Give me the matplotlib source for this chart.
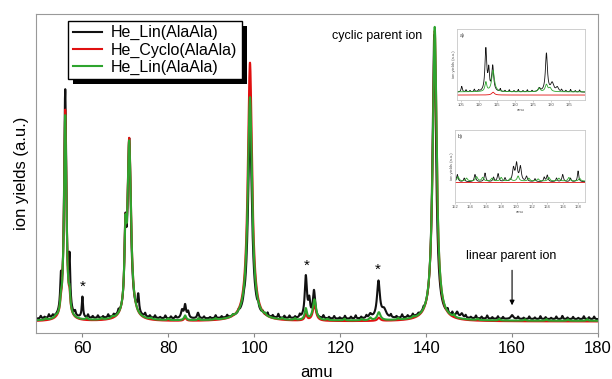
import numpy as np
import matplotlib
matplotlib.use('Agg')
import matplotlib.pyplot as plt
from matplotlib.patches import Rectangle
from matplotlib.transforms import IdentityTransform

plt.rcParams['font.family'] = ['Liberation Sans', 'DejaVu Sans']

# ---------------- main spectrum: peak tables (amu, height, half width) ----------
black_base = 0.043
black_pos = [55.0, 56.0, 57.0, 60.0, 70.0, 70.9, 73.0, 83.2, 83.9, 84.6, 86.9,
             99.0, 112.0, 112.8, 113.9, 127.0, 128.9, 130.2, 141.9, 147.2, 148.3, 160.0]
black_amp = [0.09, 0.71, 0.15, 0.065, 0.22, 0.55, 0.055, 0.025, 0.04, 0.02, 0.018,
             0.60, 0.13, 0.05, 0.085, 0.012, 0.115, 0.025, 0.89, 0.015, 0.012, 0.012]
black_wid = [0.2, 0.3, 0.2, 0.17, 0.25, 0.45, 0.22, 0.3, 0.25, 0.25, 0.25,
             0.55, 0.3, 0.25, 0.32, 0.35, 0.4, 0.6, 0.5, 0.3, 0.3, 0.35]

red_base = 0.036
red_pos = [55.0, 56.0, 57.0, 70.0, 70.9, 83.9, 99.0, 112.0, 114.0, 129.0, 142.0]
red_amp = [0.02, 0.66, 0.04, 0.2, 0.56, 0.01, 0.81, 0.02, 0.05, 0.01, 0.91]
red_wid = [0.2, 0.33, 0.2, 0.25, 0.5, 0.3, 0.6, 0.3, 0.45, 0.4, 0.55]

green_base = 0.038
green_pos = [55.0, 56.0, 57.0, 70.0, 70.9, 83.9, 99.0, 112.0, 114.0, 127.0, 129.0, 142.0]
green_amp = [0.03, 0.64, 0.05, 0.2, 0.55, 0.015, 0.70, 0.035, 0.065, 0.008, 0.025, 0.92]
green_wid = [0.2, 0.33, 0.2, 0.25, 0.5, 0.3, 0.6, 0.3, 0.45, 0.3, 0.45, 0.55]

# baseline jitter of the black trace (amu, height)
black_noise_pos = [50.3, 51.2, 52.2, 53.1, 58.3, 61.3, 62.4, 63.6, 64.8, 66.0, 67.3, 68.4,
                   74.6, 75.7, 76.9, 78.1, 79.3, 80.6, 81.7, 88.3, 89.7, 91.0, 92.4,
                   93.7, 95.1, 96.4, 97.6, 100.9, 102.0, 103.1, 104.3, 105.6, 107.0,
                   108.2, 109.5, 110.6, 116.1, 117.4, 118.6, 119.9, 121.1, 122.5,
                   123.6, 124.9, 126.1, 131.8, 133.1, 134.4, 135.7, 136.9, 138.2,
                   139.4, 145.0, 146.1, 149.2, 150.4, 151.6, 152.9, 154.2, 155.4,
                   156.7, 157.9, 161.4, 162.7, 164.0, 165.3, 166.6, 167.8, 169.1,
                   170.3, 171.7, 172.9, 174.2, 175.4, 176.7, 177.9, 179.1]
black_noise_amp = [0.008, 0.004, 0.010, 0.006, 0.012, 0.010, 0.006, 0.008, 0.005, 0.009,
                   0.006, 0.010, 0.010, 0.006, 0.008, 0.004, 0.009, 0.006, 0.007, 0.006,
                   0.004, 0.009, 0.005, 0.007, 0.004, 0.008, 0.010, 0.012, 0.007, 0.010,
                   0.006, 0.012, 0.007, 0.008, 0.005, 0.009, 0.009, 0.005, 0.008, 0.004,
                   0.009, 0.006, 0.010, 0.005, 0.008, 0.009, 0.005, 0.010, 0.006, 0.008,
                   0.004, 0.007, 0.012, 0.010, 0.008, 0.004, 0.009, 0.006, 0.010, 0.005,
                   0.008, 0.006, 0.007, 0.004, 0.008, 0.005, 0.009, 0.006, 0.004, 0.008,
                   0.010, 0.005, 0.007, 0.004, 0.009, 0.006, 0.008]
green_noise_pos = [51.5, 53.8, 61.0, 64.5, 67.0, 76.0, 80.0, 87.0, 91.0, 95.0, 102.5,
                   106.5, 109.5, 117.0, 121.0, 125.0, 133.5, 137.0, 146.5, 152.0,
                   157.0, 163.0, 168.0, 173.0, 177.5]
green_noise_amp = [0.004, 0.005, 0.006, 0.004, 0.005, 0.004, 0.005, 0.006, 0.004, 0.005,
                   0.006, 0.004, 0.005, 0.004, 0.005, 0.004, 0.005, 0.004, 0.008, 0.004,
                   0.005, 0.004, 0.005, 0.004, 0.005]

# ---------------- inset a) 104-139.5 amu ----------------
ia_black_base = 0.11
ia_black_pos = [105.3, 112.0, 112.8, 113.9, 126.8, 128.8, 130.4, 131.8]
ia_black_amp = [0.08, 0.60, 0.28, 0.36, 0.05, 0.54, 0.12, 0.06]
ia_black_wid = [0.2, 0.3, 0.22, 0.32, 0.35, 0.33, 0.5, 0.4]
ia_green_base = 0.115
ia_green_pos = [112.0, 114.0, 126.8, 128.8, 129.8]
ia_green_amp = [0.13, 0.30, 0.05, 0.10, 0.05]
ia_green_wid = [0.3, 0.45, 0.35, 0.4, 0.4]
ia_red_base = 0.07
ia_red_pos = [114.0]
ia_red_amp = [0.04]
ia_red_wid = [0.45]
ia_black_noise_pos = [106.5, 107.6, 108.8, 110.0, 116.0, 117.3, 118.5, 119.8, 121.0,
                      122.3, 123.5, 124.8, 133.0, 134.2, 135.5, 136.8, 138.0]
ia_black_noise_amp = [0.03, 0.02, 0.035, 0.02, 0.04, 0.02, 0.03, 0.02, 0.035, 0.02,
                      0.03, 0.02, 0.03, 0.02, 0.035, 0.02, 0.03]

# ---------------- inset b) 152-168.9 amu ----------------
ib_black_base = 0.28
ib_black_pos = [152.3, 153.2, 154.6, 155.9, 157.0, 157.6, 158.5, 159.6, 160.0, 160.5,
                161.3, 162.4, 163.6, 164.0, 165.2, 166.0, 167.0, 168.0]
ib_black_amp = [0.10, 0.05, 0.10, 0.12, 0.06, 0.11, 0.05, 0.18, 0.24, 0.20, 0.07,
                0.04, 0.06, 0.09, 0.05, 0.10, 0.05, 0.15]
ib_black_wid = [0.12, 0.1, 0.12, 0.12, 0.1, 0.12, 0.1, 0.15, 0.15, 0.15, 0.12,
                0.1, 0.1, 0.12, 0.1, 0.12, 0.1, 0.1]
ib_green_base = 0.29
ib_green_pos = [152.4, 153.5, 154.8, 155.6, 156.8, 158.0, 159.2, 160.2, 161.6,
                162.8, 164.2, 165.5, 166.8, 168.2]
ib_green_amp = [0.06, 0.04, 0.06, 0.05, 0.04, 0.05, 0.04, 0.07, 0.04, 0.03, 0.05,
                0.04, 0.05, 0.04]
ib_red_base = 0.27

series_labels = ['He_Lin(AlaAla)', 'He_Cyclo(AlaAla)', 'He_Lin(AlaAla)']
series_colors = ['#111111', '#e01010', '#2ea42e']
main_ticks = [60, 80, 100, 120, 140, 160, 180]
ia_ticks = [105, 110, 115, 120, 125, 130, 135]
ib_ticks = [152, 154, 156, 158, 160, 162, 164, 166, 168]


def spectrum(x, base, pos, amp, wid):
    y = np.full_like(x, base)
    for c, a, w in zip(pos, amp, wid):
        y += a * w ** 2 / ((x - c) ** 2 + w ** 2)
    return y


fig = plt.figure(figsize=(6.12, 3.79), dpi=100)
ax = fig.add_axes([36 / 612, 46 / 379, 562 / 612, 319.5 / 379])

x = np.linspace(49.2, 180, 4000)
y_black = spectrum(x, black_base, black_pos, black_amp, black_wid) + \
    spectrum(x, 0, black_noise_pos, black_noise_amp, [0.15] * len(black_noise_pos))
y_red = spectrum(x, red_base, red_pos, red_amp, red_wid)
y_green = spectrum(x, green_base, green_pos, green_amp, green_wid) + \
    spectrum(x, 0, green_noise_pos, green_noise_amp, [0.2] * len(green_noise_pos))

for y, c, lab in zip([y_black, y_red, y_green], series_colors, series_labels):
    ax.plot(x, y, color=c, lw=1.5, label=lab)

ax.set_xlim(49.2, 180)
ax.set_ylim(0, 1)
ax.set_yticks([])
ax.set_xticks(main_ticks)
ax.tick_params(axis='x', labelsize=12, length=3, color='#888888', pad=3)
for s in ax.spines.values():
    s.set_color('#999999')
ax.set_xlabel('amu', fontsize=12, labelpad=6)
ax.set_ylabel('ion yields (a.u.)', fontsize=12, labelpad=5)

# annotations
ax.text(128.6, 0.93, 'cyclic parent ion', fontsize=9, ha='center', va='center')
ax.text(159.7, 0.24, 'linear parent ion', fontsize=9, ha='center', va='center')
ax.annotate('', xy=(160, 0.078), xytext=(160, 0.205),
            arrowprops=dict(arrowstyle='-|>', color='black', lw=0.8,
                            mutation_scale=7))
for sx, sy in [(60, 0.145), (112.3, 0.21), (128.8, 0.198)]:
    ax.text(sx, sy, '*', fontsize=11, ha='center', va='center')

leg = ax.legend(loc='upper left', bbox_to_anchor=(0.057, 0.978), borderaxespad=0,
                fontsize=11.5, frameon=True, fancybox=False, framealpha=1,
                handlelength=1.8, labelspacing=0.12, borderpad=0.3,
                handletextpad=0.55)
leg.get_frame().set_edgecolor('black')
leg.get_frame().set_linewidth(1.0)
leg.set_zorder(6)

# ---------------- insets ----------------
def style_inset(iax, ticks, lab):
    iax.set_xticks(ticks)
    iax.set_yticks([])
    iax.tick_params(axis='x', labelsize=3, length=1.2, width=0.4, pad=1,
                    color='#aaaaaa', labelcolor='#555555')
    for s in iax.spines.values():
        s.set_color('#c8c8c8')
        s.set_linewidth(0.6)
    iax.set_xlabel('amu', fontsize=3, labelpad=0.5, color='#555555')
    iax.set_ylabel('ion yields (a.u.)', fontsize=3, labelpad=1, color='#555555')
    iax.text(0.02, 0.95, lab, transform=iax.transAxes, fontsize=4, va='top',
             color='#444444')


iax_a = fig.add_axes([457 / 612, 279 / 379, 128 / 612, 71 / 379])
xa = np.linspace(104, 139.5, 1500)
ya_black = spectrum(xa, ia_black_base, ia_black_pos, ia_black_amp, ia_black_wid) + \
    spectrum(xa, 0, ia_black_noise_pos, ia_black_noise_amp, [0.15] * len(ia_black_noise_pos))
ya_red = spectrum(xa, ia_red_base, ia_red_pos, ia_red_amp, ia_red_wid)
ya_green = spectrum(xa, ia_green_base, ia_green_pos, ia_green_amp, ia_green_wid)
for y, c in zip([ya_black, ya_red, ya_green], series_colors):
    iax_a.plot(xa, y, color=c, lw=0.6)
iax_a.set_xlim(104, 139.5)
iax_a.set_ylim(0, 1)
style_inset(iax_a, ia_ticks, 'a)')

iax_b = fig.add_axes([455 / 612, 177 / 379, 130 / 612, 72 / 379])
xb = np.linspace(152, 168.9, 1500)
yb_black = spectrum(xb, ib_black_base, ib_black_pos, ib_black_amp, ib_black_wid)
yb_red = np.full_like(xb, ib_red_base)
yb_green = spectrum(xb, ib_green_base, ib_green_pos, ib_green_amp,
                    [0.15] * len(ib_green_pos))
for y, c in zip([yb_black, yb_red, yb_green], series_colors):
    iax_b.plot(xb, y, color=c, lw=0.6)
iax_b.set_xlim(152, 168.9)
iax_b.set_ylim(0, 1)
style_inset(iax_b, ib_ticks, 'b)')

# black drop shadow behind the legend
fig.canvas.draw()
bb = leg.get_window_extent()
shadow = Rectangle((bb.x0 + 5, bb.y0 - 5), bb.width, bb.height,
                   transform=IdentityTransform(), facecolor='black',
                   edgecolor='none', zorder=5.5, clip_on=False)
ax.add_artist(shadow)

fig.savefig('out.png', dpi=100)
